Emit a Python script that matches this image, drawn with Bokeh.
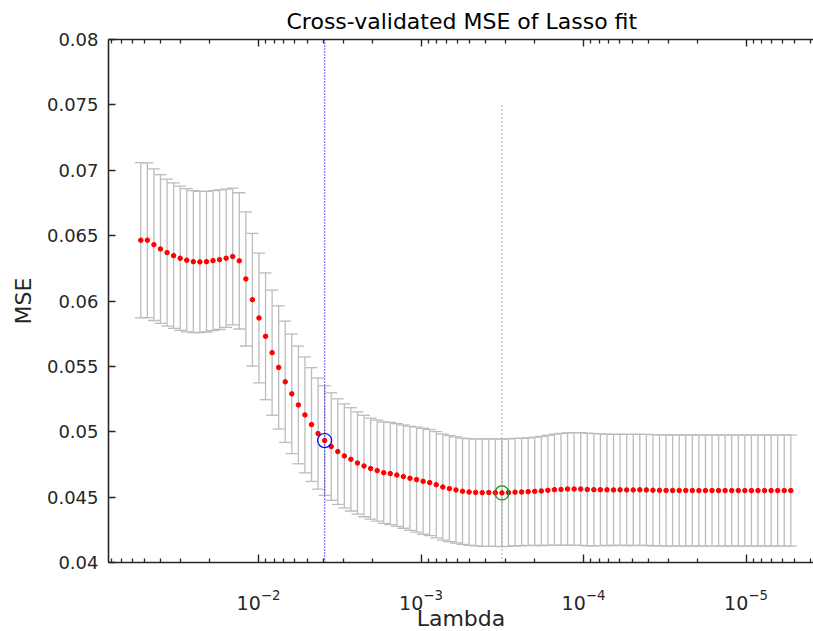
import numpy as np
from bokeh.plotting import figure
from bokeh.models import (Range1d, FixedTicker, LogAxis, LogTickFormatter,
                          ColumnDataSource)
from bokeh.embed import file_html
from bokeh.resources import INLINE

# ---------------- data ----------------
lambda_max = 0.053
lambda_min = 5.3e-6
n_lambda = 100
lam = np.logspace(np.log10(lambda_max), np.log10(lambda_min), n_lambda)

mse = [
    0.06465, 0.06465, 0.06431, 0.06398, 0.06370, 0.06347, 0.06327, 0.06312, 0.06301, 0.06299,
    0.06301, 0.06309, 0.06316, 0.06327, 0.06340, 0.06307, 0.06169, 0.06010, 0.05870, 0.05730,
    0.05605, 0.05492, 0.05382, 0.05290, 0.05205, 0.05129, 0.05055, 0.04986, 0.04933, 0.04887,
    0.04848, 0.04815, 0.04789, 0.04761, 0.04738, 0.04718, 0.04703, 0.04687, 0.04680, 0.04669,
    0.04657, 0.04644, 0.04634, 0.04621, 0.04611, 0.04595, 0.04577, 0.04565, 0.04555, 0.04545,
    0.04539, 0.04536, 0.04534, 0.04535, 0.04534, 0.04532, 0.04535, 0.04538, 0.04539, 0.04542,
    0.04544, 0.04547, 0.04552, 0.04557, 0.04559, 0.04562, 0.04562, 0.04562, 0.04558, 0.04557,
    0.04557, 0.04556, 0.04555, 0.04556, 0.04555, 0.04555, 0.04556, 0.04555, 0.04553, 0.04552,
    0.04551, 0.04551, 0.04551, 0.04551, 0.04551, 0.04550, 0.04550, 0.04550, 0.04550, 0.04550,
    0.04550, 0.04550, 0.04550, 0.04550, 0.04550, 0.04550, 0.04550, 0.04550, 0.04550, 0.04550,
]

se = [
    0.00594, 0.00592, 0.00580, 0.00569, 0.00562, 0.00557, 0.00552, 0.00548, 0.00543, 0.00540,
    0.00538, 0.00535, 0.00534, 0.00529, 0.00523, 0.00521, 0.00513, 0.00507, 0.00496, 0.00485,
    0.00479, 0.00471, 0.00464, 0.00457, 0.00450, 0.00443, 0.00435, 0.00425, 0.00419, 0.00411,
    0.00404, 0.00398, 0.00395, 0.00391, 0.00388, 0.00386, 0.00386, 0.00388, 0.00391, 0.00393,
    0.00395, 0.00398, 0.00402, 0.00405, 0.00406, 0.00406, 0.00406, 0.00406, 0.00406, 0.00406,
    0.00408, 0.00409, 0.00411, 0.00411, 0.00411, 0.00411, 0.00411, 0.00411, 0.00411, 0.00411,
    0.00414, 0.00417, 0.00421, 0.00425, 0.00428, 0.00430, 0.00431, 0.00431, 0.00431, 0.00429,
    0.00428, 0.00426, 0.00425, 0.00425, 0.00425, 0.00425, 0.00425, 0.00425, 0.00425, 0.00425,
    0.00425, 0.00425, 0.00425, 0.00425, 0.00425, 0.00425, 0.00425, 0.00425, 0.00425, 0.00425,
    0.00425, 0.00425, 0.00425, 0.00425, 0.00425, 0.00425, 0.00425, 0.00425, 0.00425, 0.00425,
]

idx_1se = 28      # Lambda with minimum MSE + 1 SE (blue)
idx_min = 55      # Lambda with minimum MSE (green)
line_1se_y = [0.04, 0.08]
line_min_y = [0.04, 0.075]

x_major_ticks = [1e-2, 1e-3, 1e-4, 1e-5]
x_minor_ticks = [m * 10.0 ** e for e in range(-7, -1) for m in range(2, 10)]
y_ticks = [0.04, 0.045, 0.05, 0.055, 0.06, 0.065, 0.07, 0.075, 0.08]
y_tick_labels = ["0.04", "0.045", "0.05", "0.055", "0.06", "0.065", "0.07", "0.075", "0.08"]

title_text = "Cross-validated MSE of Lasso fit"
x_label = "Lambda"
y_label = "MSE"

# ---------------- figure ----------------
FONT = "DejaVu Sans"
TXT = "#262626"

mse_a = np.array(mse)
se_a = np.array(se)
src = ColumnDataSource(dict(lam=lam, mse=mse_a, lo=mse_a - se_a, hi=mse_a + se_a))

p = figure(frame_width=705, frame_height=523,
           x_axis_type="log",
           x_range=Range1d(0.08376, 3.843e-6),
           y_range=Range1d(0.04, 0.08),
           output_backend="svg", toolbar_location=None,
           min_border_left=108, min_border_top=39,
           min_border_right=0, min_border_bottom=0)

p.grid.visible = False
p.outline_line_color = None
p.background_fill_color = "white"
p.border_fill_color = "white"

# title
p.title.text = title_text
p.title.align = "left"
p.title.offset = 178
p.title.text_font = FONT
p.title.text_font_size = "22px"
p.title.text_font_style = "normal"
p.title.text_color = "black"
p.title.standoff = 11

# error bars
bar_color = "#bcbcbc"
p.segment(x0="lam", y0="lo", x1="lam", y1="hi", source=src,
          line_color=bar_color, line_width=1.3)
p.scatter("lam", "hi", source=src, marker="dash", size=12,
          line_color=bar_color, line_width=1.3)
p.scatter("lam", "lo", source=src, marker="dash", size=12,
          line_color=bar_color, line_width=1.3)

# dotted vertical lines
p.line(x=[lam[idx_1se], lam[idx_1se]], y=line_1se_y, line_color="blue",
       line_dash="1 2", line_width=1.2)
p.line(x=[lam[idx_min], lam[idx_min]], y=line_min_y, line_color="#3aa83a",
       line_dash="1 3", line_width=1.2)

# MSE points
p.scatter("lam", "mse", source=src, marker="circle", size=4.5,
          fill_color="red", line_color="red")

# circles at the two selected lambdas
p.scatter(x=[lam[idx_1se]], y=[mse[idx_1se]], marker="circle", size=14,
          fill_color=None, line_color="blue", line_width=1.2)
p.scatter(x=[lam[idx_min]], y=[mse[idx_min]], marker="circle", size=14,
          fill_color=None, line_color="#1c8a1c", line_width=1.2)

# axes styling
def style_axis(ax):
    ax.axis_line_color = TXT
    ax.axis_line_width = 1.6
    ax.major_tick_line_color = TXT
    ax.minor_tick_line_color = TXT
    ax.major_tick_line_width = 1.4
    ax.minor_tick_line_width = 1.3
    ax.major_tick_out = 0
    ax.minor_tick_out = 0
    ax.major_label_text_font = FONT
    ax.major_label_text_color = TXT
    ax.axis_label_text_font = FONT
    ax.axis_label_text_font_style = "normal"
    ax.axis_label_text_color = TXT
    ax.axis_label_text_font_size = "22px"

xt = FixedTicker(ticks=x_major_ticks, minor_ticks=x_minor_ticks)
xa = p.xaxis[0]
xa.ticker = xt
xa.formatter = LogTickFormatter()
style_axis(xa)
xa.major_tick_in = 8
xa.minor_tick_in = 4
xa.major_label_text_font_size = "19px"
xa.major_label_standoff = 26
xa.axis_label = x_label
xa.axis_label_standoff = -7

ya = p.yaxis[0]
ya.ticker = FixedTicker(ticks=y_ticks, minor_ticks=[])
ya.major_label_overrides = {t: s for t, s in zip(y_ticks, y_tick_labels)}
style_axis(ya)
ya.major_tick_in = 7
ya.minor_tick_in = 0
ya.minor_tick_line_color = None
ya.major_label_text_font_size = "18px"
ya.major_label_standoff = 10
ya.axis_label = y_label
ya.axis_label_standoff = 8

top = LogAxis(ticker=FixedTicker(ticks=x_major_ticks, minor_ticks=x_minor_ticks))
style_axis(top)
top.major_tick_in = 7
top.minor_tick_in = 4
top.major_label_text_font_size = "0px"
top.major_label_text_color = None
top.major_label_standoff = 0
p.add_layout(top, "above")

open("out.html", "w").write(file_html(p, INLINE))
